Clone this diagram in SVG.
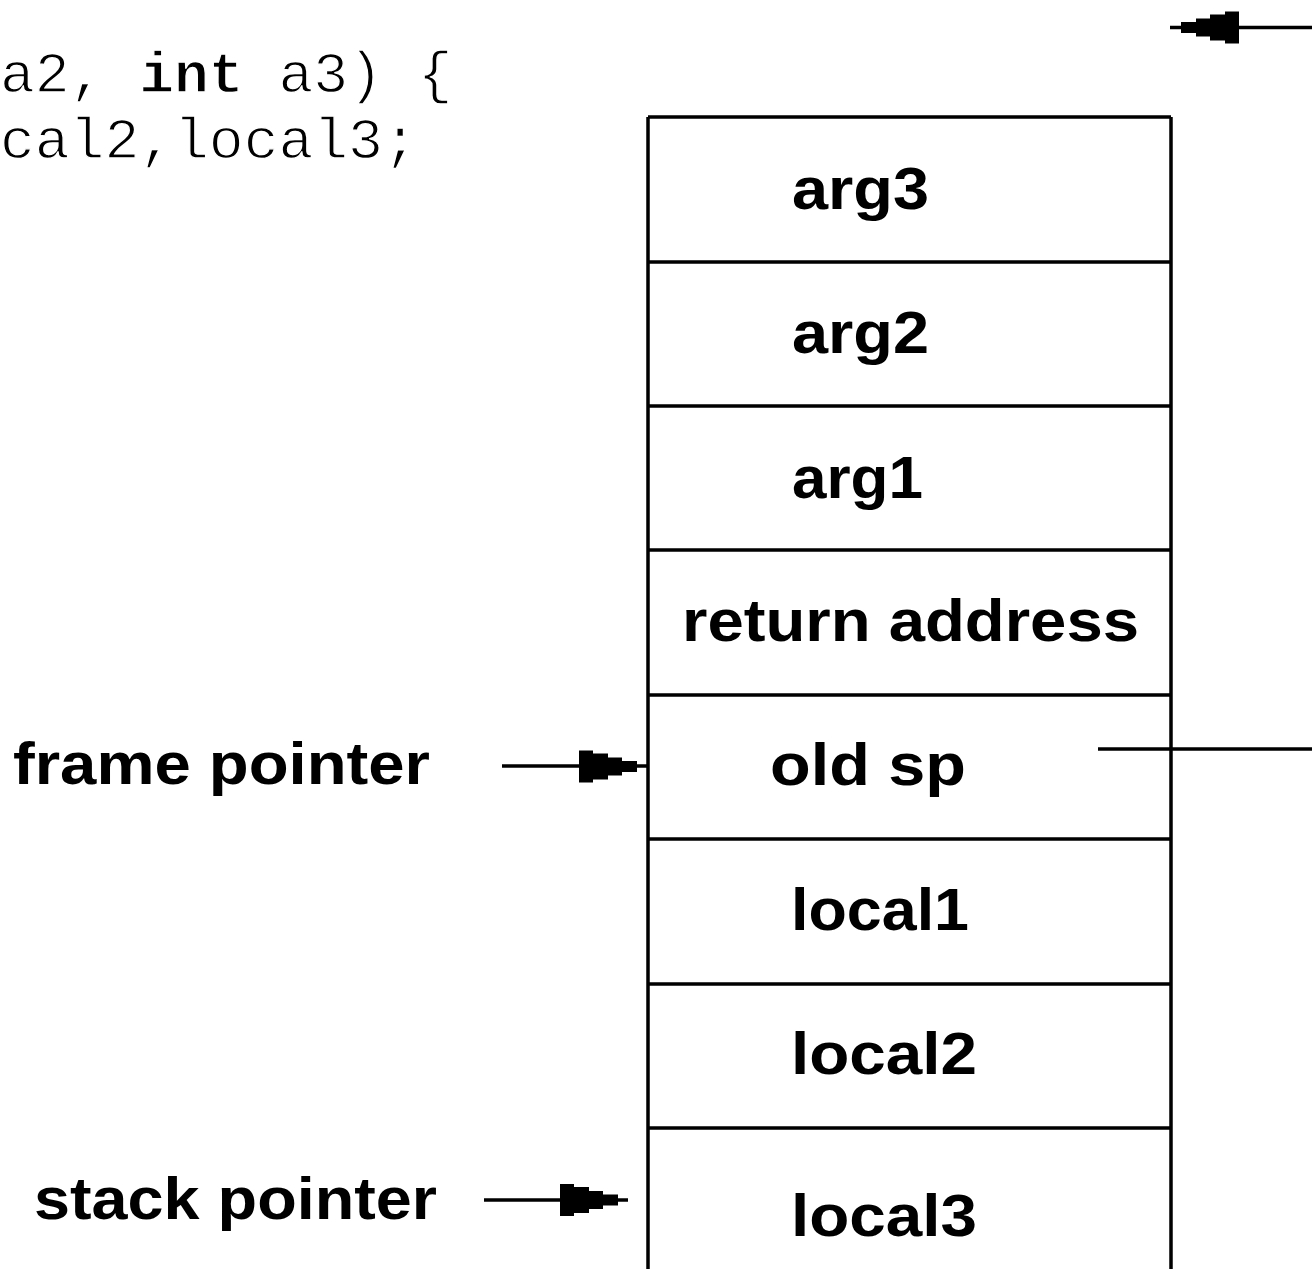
<svg xmlns="http://www.w3.org/2000/svg" width="1312" height="1269" viewBox="0 0 1312 1269">
<style>
.ln{stroke:#000;stroke-width:3.5;fill:none}
.lbl{font-family:"Liberation Sans",Arial,Helvetica,sans-serif;font-weight:bold;font-size:60px;fill:#000}
.code{font-family:"Liberation Mono","Courier New",monospace;font-size:58px;fill:#000;stroke:#fff;stroke-width:1.3}
</style>
<defs>
<path id="head" d="M-58,-16 H-44 V-13 H-29 V-9 H-15 V-5.5 H0 V5.5 H-15 V9 H-29 V13 H-44 V16 H-58 Z" fill="#000"/>
</defs>
<rect width="1312" height="1269" fill="#fff"/>
<g id="code">
<text class="code" x="0" y="92">a2, <tspan font-weight="bold">int</tspan> a3) {</text>
<text class="code" x="0" y="158">cal2,local3;</text>
</g>
<g id="stack">
<g id="arg3"><path class="ln" d="M648,117 H1171 M648,117 V262 M1171,117 V262"/><text class="lbl" x="792" y="209" textLength="137" lengthAdjust="spacingAndGlyphs">arg3</text></g>
<g id="arg2"><path class="ln" d="M648,262 H1171 M648,262 V406 M1171,262 V406"/><text class="lbl" x="792" y="353" textLength="137" lengthAdjust="spacingAndGlyphs">arg2</text></g>
<g id="arg1"><path class="ln" d="M648,406 H1171 M648,406 V550 M1171,406 V550"/><text class="lbl" x="792" y="498" textLength="131" lengthAdjust="spacingAndGlyphs">arg1</text></g>
<g id="ret"><path class="ln" d="M648,550 H1171 M648,550 V695 M1171,550 V695"/><text class="lbl" x="682" y="641" textLength="457" lengthAdjust="spacingAndGlyphs">return address</text></g>
<g id="oldsp"><path class="ln" d="M648,695 H1171 M648,695 V839 M1171,695 V839"/><text class="lbl" x="770" y="785" textLength="196" lengthAdjust="spacingAndGlyphs">old sp</text></g>
<g id="local1"><path class="ln" d="M648,839 H1171 M648,839 V984 M1171,839 V984"/><text class="lbl" x="791" y="930" textLength="178" lengthAdjust="spacingAndGlyphs">local1</text></g>
<g id="local2"><path class="ln" d="M648,984 H1171 M648,984 V1128 M1171,984 V1128"/><text class="lbl" x="791" y="1074" textLength="186" lengthAdjust="spacingAndGlyphs">local2</text></g>
<g id="local3"><path class="ln" d="M648,1128 H1171 M648,1128 V1269 M1171,1128 V1269"/><text class="lbl" x="791" y="1236" textLength="186" lengthAdjust="spacingAndGlyphs">local3</text></g>
</g>
<g id="fp"><text class="lbl" x="13" y="784" textLength="417" lengthAdjust="spacingAndGlyphs">frame pointer</text></g>
<g id="sp"><text class="lbl" x="34" y="1219" textLength="403" lengthAdjust="spacingAndGlyphs">stack pointer</text></g>
<g id="connectors">
<path class="ln" d="M1170,27.5 H1312"/>
<use href="#head" transform="translate(1181,27.5) rotate(180)"/>
<path class="ln" d="M502,766 H648"/>
<use href="#head" transform="translate(637,766.5)"/>
<path class="ln" d="M484,1200 H628"/>
<use href="#head" transform="translate(618,1200)"/>
<path class="ln" d="M1098,749 H1312"/>
</g>
</svg>
